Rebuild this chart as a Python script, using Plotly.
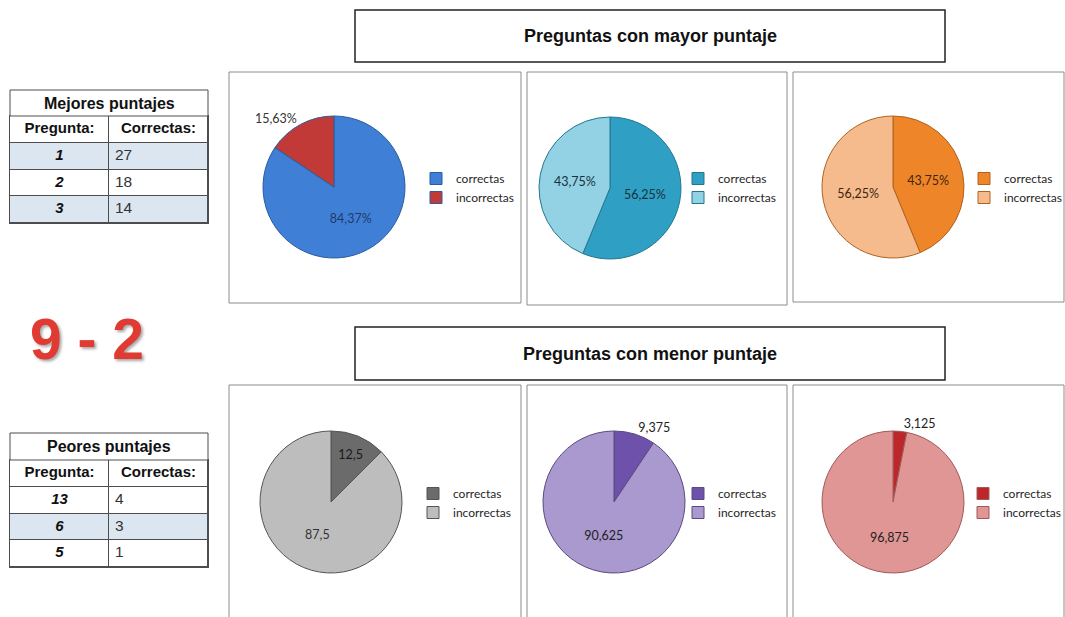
import plotly.graph_objects as go

# ---------------- data ----------------
mejores_titulo = "Mejores puntajes"
peores_titulo = "Peores puntajes"
col_headers = ["Pregunta:", "Correctas:"]
mejores_preguntas = ["1", "2", "3"]
mejores_correctas = [27, 18, 14]
peores_preguntas = ["13", "6", "5"]
peores_correctas = [4, 3, 1]

pie_labels = ["correctas", "incorrectas"]
mayor_correctas = [84.37, 56.25, 43.75]
mayor_incorrectas = [15.63, 43.75, 56.25]
menor_correctas = [12.5, 9.375, 3.125]
menor_incorrectas = [87.5, 90.625, 96.875]

marcador = "9 - 2"
titulo_mayor = "Preguntas con mayor puntaje"
titulo_menor = "Preguntas con menor puntaje"

# ---------------- style ----------------
W, H = 1065, 617
NARROW = "Liberation Sans Narrow, Arial Narrow, Liberation Sans, Arial, sans-serif"
LBL = "Lato, Carlito, Calibri, Open Sans, sans-serif"
GRID = "#4D4D4D"
BLUE = "#DCE6F1"

mayor_colors = [["#3F80D6", "#C23A38"], ["#2F9FC4", "#93D1E4"], ["#EE8529", "#F6BB8C"]]
menor_colors = [["#6B6B6B", "#BDBDBD"], ["#6E51AA", "#A999CF"], ["#BC272B", "#DF9695"]]
mayor_lines = ["#2B5C9E", "#23788F", "#B0621E"]
menor_lines = ["#555555", "#5A4A80", "#A05A5A"]
mayor_textpos = [["inside", "outside"], ["inside", "inside"], ["inside", "inside"]]
menor_textpos = [["inside", "inside"], ["outside", "inside"], ["outside", "inside"]]
mayor_textcol = [["#1F3A6B", "#333333"], ["#16323D", "#16323D"], ["#3F2510", "#3F2510"]]
menor_textcol = [["#1A1A1A", "#333333"], ["#222222", "#222222"], ["#222222", "#222222"]]

mayor_centers = [(334, 187), (610, 188), (893, 187)]
menor_centers = [(331, 502), (614, 502), (893, 502)]
mayor_legend_x = [455, 717, 1003]
menor_legend_x = [452, 717, 1002]
D = 142


def px(x):
    return x / W


def py(y):
    return 1 - y / H


def fmt_pct(v):
    return f"{v:.2f}%".replace(".", ",")


def fmt_num(v):
    return f"{v:g}".replace(".", ",")


fig = go.Figure()
legends = {}
k = 0
for cors, incs, cols, lines, tpos, tcol, centers, lxs, fmt, ly in [
    (mayor_correctas, mayor_incorrectas, mayor_colors, mayor_lines, mayor_textpos,
     mayor_textcol, mayor_centers, mayor_legend_x, fmt_pct, 188),
    (menor_correctas, menor_incorrectas, menor_colors, menor_lines, menor_textpos,
     menor_textcol, menor_centers, menor_legend_x, fmt_num, 503),
]:
    for i in range(3):
        k += 1
        lname = "legend" if k == 1 else f"legend{k}"
        cx, cy = centers[i]
        vals = [cors[i], incs[i]]
        fig.add_trace(go.Pie(
            labels=pie_labels,
            values=vals,
            text=[fmt(v) for v in vals],
            textinfo="text",
            textposition=tpos[i],
            insidetextorientation="horizontal",
            textfont=dict(family=LBL, size=12.5, color=tcol[i]),
            marker=dict(colors=cols[i], line=dict(color=lines[i], width=1)),
            sort=False,
            direction="clockwise",
            rotation=0,
            hoverinfo="label+value",
            legend=lname,
            legendgroup=f"pie{k}",
            domain=dict(x=[px(cx - D / 2), px(cx + D / 2)], y=[py(cy + D / 2), py(cy - D / 2)]),
        ))
        legends[lname] = dict(
            x=px(lxs[i] - 39), y=py(ly), xanchor="left", yanchor="middle",
            bgcolor="rgba(0,0,0,0)", borderwidth=0,
            font=dict(family=LBL, size=12, color="#262626"),
        )

# ---------------- tables (heatmap cells + text on own axes) ----------------
shapes = []
annotations = []
tables = [
    (mejores_titulo, mejores_preguntas, mejores_correctas, [1, 0, 1], 90, 116, 223),
    (peores_titulo, peores_preguntas, peores_correctas, [0, 1, 0], 433, 460, 567),
]
axes = {}
for t, (title, preg, corr, fills, t0, t1, t2) in enumerate(tables, start=1):
    xa = "x" if t == 1 else f"x{t}"
    ya = "y" if t == 1 else f"y{t}"
    nrows = len(preg) + 1
    z = [[0, 0]] + [[f, f] for f in fills]
    fig.add_trace(go.Heatmap(
        x=[0.5, 1.5], y=[r + 0.5 for r in range(nrows)], z=z,
        colorscale=[[0, "white"], [1, BLUE]], zmin=0, zmax=1, showscale=False,
        xgap=1, ygap=1, hoverinfo="skip", xaxis=xa, yaxis=ya,
    ))
    # header texts
    fig.add_trace(go.Scatter(
        x=[0.5, 1.5], y=[0.5, 0.5], mode="text",
        text=[f"<b>{h}</b>" for h in col_headers], textposition="middle center",
        textfont=dict(family=NARROW, size=15, color="#111111"),
        hoverinfo="skip", showlegend=False, xaxis=xa, yaxis=ya, cliponaxis=False,
    ))
    # pregunta column
    fig.add_trace(go.Scatter(
        x=[0.5] * len(preg), y=[r + 1.5 for r in range(len(preg))], mode="text",
        text=[f"<b><i>{p}</i></b>" for p in preg], textposition="middle center",
        textfont=dict(family=NARROW, size=15, color="#111111"),
        hoverinfo="skip", showlegend=False, xaxis=xa, yaxis=ya, cliponaxis=False,
    ))
    # correctas column
    fig.add_trace(go.Scatter(
        x=[1.06] * len(corr), y=[r + 1.5 for r in range(len(corr))], mode="text",
        text=[str(c) for c in corr], textposition="middle right",
        textfont=dict(family=NARROW, size=15.5, color="#333333"),
        hoverinfo="skip", showlegend=False, xaxis=xa, yaxis=ya, cliponaxis=False,
    ))
    axcommon = dict(showgrid=False, zeroline=False, showticklabels=False, ticks="",
                    showline=True, linecolor=GRID, linewidth=1, mirror=True,
                    fixedrange=True)
    axes["xaxis" if t == 1 else f"xaxis{t}"] = dict(
        domain=[px(10), px(208)], range=[0, 2], anchor=ya, **axcommon)
    axes["yaxis" if t == 1 else f"yaxis{t}"] = dict(
        domain=[py(t2), py(t1)], range=[nrows, 0], anchor=xa, **axcommon)
    # merged title row
    shapes.append(dict(type="rect", xref="paper", yref="paper", x0=px(10), x1=px(208),
                       y0=py(t1), y1=py(t0), line=dict(color=GRID, width=1),
                       fillcolor="white", layer="above"))
    annotations.append(dict(text=f"<b>{title}</b>", xref="paper", yref="paper",
                            x=px(109), y=py((t0 + t1) / 2), xanchor="center",
                            yanchor="middle", showarrow=False,
                            font=dict(family=NARROW, size=16, color="#111111")))

# ---------------- panels & titles ----------------
for (x0, y0, x1, y1) in [(229, 72, 521, 303), (527, 72, 787, 305), (793, 72, 1064, 302),
                         (229, 385, 521, 625), (527, 385, 787, 625), (793, 385, 1064, 625)]:
    shapes.append(dict(type="rect", xref="paper", yref="paper", x0=px(x0), x1=px(x1),
                       y0=py(y1), y1=py(y0), line=dict(color="#8C8C8C", width=1),
                       layer="below"))

for title, y0, y1 in [(titulo_mayor, 10, 62), (titulo_menor, 327, 380)]:
    shapes.append(dict(type="rect", xref="paper", yref="paper", x0=px(355), x1=px(945),
                       y0=py(y1), y1=py(y0), line=dict(color="#222222", width=1.5),
                       layer="below"))
    annotations.append(dict(text=f"<b>{title}</b>", xref="paper", yref="paper",
                            x=px(650), y=py((y0 + y1) / 2), xanchor="center",
                            yanchor="middle", showarrow=False,
                            font=dict(family=NARROW, size=18, color="#111111")))

annotations.append(dict(text=f"<b>{marcador}</b>", xref="paper", yref="paper",
                        x=px(87), y=py(339), xanchor="center", yanchor="middle",
                        showarrow=False,
                        font=dict(family=NARROW, size=57, color="#E03A33",
                                  shadow="2px 2px 3px rgba(0,0,0,0.35)")))

fig.update_layout(
    width=W, height=H,
    margin=dict(l=0, r=0, t=0, b=0, autoexpand=False),
    paper_bgcolor="white",
    plot_bgcolor=GRID,
    shapes=shapes,
    annotations=annotations,
    **axes,
    **legends,
)

fig.write_html("out.html")
